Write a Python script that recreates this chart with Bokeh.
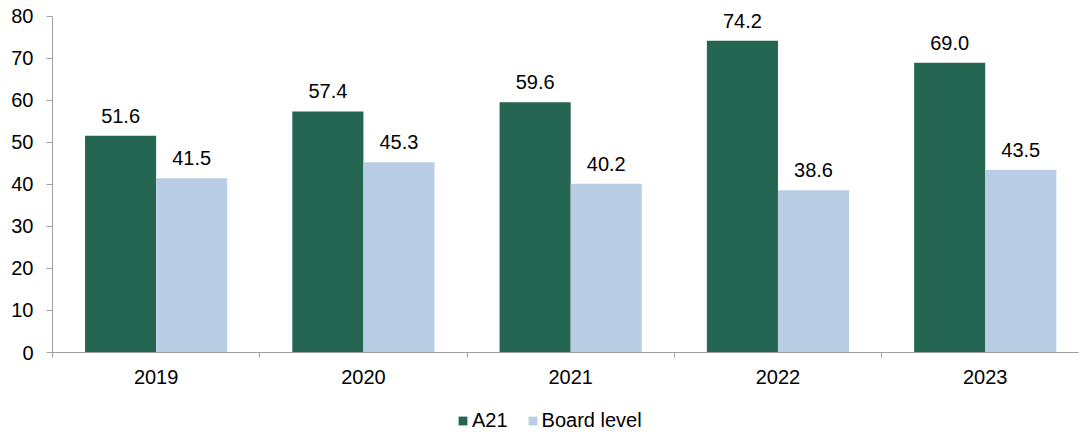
from bokeh.plotting import figure
from bokeh.layouts import column
from bokeh.models import (ColumnDataSource, Range1d, FixedTicker, LabelSet, Legend, LegendItem)
from bokeh.core.properties import value
from bokeh.transform import dodge
from bokeh.embed import file_html
from bokeh.resources import INLINE

years = ["2019", "2020", "2021", "2022", "2023"]
a21 = [51.6, 57.4, 59.6, 74.2, 69.0]
board = [41.5, 45.3, 40.2, 38.6, 43.5]
y_ticks = [0, 10, 20, 30, 40, 50, 60, 70, 80]
series_names = ["A21", "Board level"]

GREEN = "#256652"
BLUE = "#B9CDE5"
AXIS = "#A0A0A0"
FONT = "Liberation Sans"
FS = "20px"

pos = [i + 0.5 for i in range(len(years))]
src = ColumnDataSource(dict(
    x=pos, a21=a21, board=board,
    a21_lbl=[f"{v:.1f}" for v in a21],
    board_lbl=[f"{v:.1f}" for v in board],
))

p = figure(width=1080, height=400, output_backend="svg", toolbar_location=None,
           x_range=Range1d(0, 4.95), y_range=Range1d(0, 83.8),
           min_border_left=52, min_border_right=2, min_border_top=0, min_border_bottom=48)
p.outline_line_color = None
p.grid.visible = False

bw = 0.343
p.vbar(x=dodge("x", -bw / 2, range=p.x_range), top="a21", width=bw, source=src,
       fill_color=GREEN, line_color=None)
p.vbar(x=dodge("x", bw / 2, range=p.x_range), top="board", width=bw, source=src,
       fill_color=BLUE, line_color=None)

for col, lbl, off in (("a21", "a21_lbl", -bw / 2), ("board", "board_lbl", bw / 2)):
    ls = LabelSet(x=dodge("x", off, range=p.x_range), y=col, text=lbl, source=src,
                  text_align="center", text_baseline="alphabetic", y_offset=13,
                  text_font=value(FONT), text_font_size=value(FS), text_color="#000000")
    p.add_layout(ls)

# x axis: labels at centers, ticks at category boundaries (minor ticks)
xa = p.xaxis[0]
xa.ticker = FixedTicker(ticks=pos, minor_ticks=list(range(len(years) + 1)))
xa.major_label_overrides = {v: y for v, y in zip(pos, years)}
xa.major_tick_line_color = None
xa.major_tick_out = 0
xa.major_tick_in = 0
xa.minor_tick_out = 5
xa.minor_tick_in = 0
xa.minor_tick_line_color = AXIS
xa.axis_line_color = AXIS
xa.major_label_standoff = 12
xa.major_label_text_font = FONT
xa.major_label_text_font_size = FS
xa.major_label_text_color = "#000000"

ya = p.yaxis[0]
ya.ticker = FixedTicker(ticks=y_ticks, minor_ticks=[])
ya.bounds = (y_ticks[0], y_ticks[-1])
ya.axis_line_color = AXIS
ya.major_tick_line_color = AXIS
ya.major_tick_out = 6
ya.major_tick_in = 0
ya.minor_tick_line_color = None
ya.major_label_standoff = 13
ya.major_label_text_font = FONT
ya.major_label_text_font_size = FS
ya.major_label_text_color = "#000000"

# legend strip: key renderers have zero width and lie outside the visible range
lg = figure(width=1080, height=32, output_backend="svg", toolbar_location=None,
            x_range=Range1d(0, 5), y_range=Range1d(-1000, -999),
            x_axis_location=None, y_axis_location=None,
            min_border_left=0, min_border_right=0, min_border_top=0, min_border_bottom=0)
lg.grid.visible = False
lg.outline_line_color = None
k1 = lg.vbar(x="x", top="a21", width=0, source=src, fill_color=GREEN, line_color=None)
k2 = lg.vbar(x="x", top="board", width=0, source=src, fill_color=BLUE, line_color=None)
legend = Legend(items=[LegendItem(label=series_names[0], renderers=[k1]),
                       LegendItem(label=series_names[1], renderers=[k2])],
                orientation="horizontal", location=(405, 0),
                glyph_width=11, glyph_height=11, label_standoff=4, spacing=19,
                label_text_font=FONT, label_text_font_size=FS, label_text_color="#000000",
                border_line_color=None, background_fill_alpha=0, padding=2, margin=0)
lg.add_layout(legend, "center")

layout = column(p, lg, spacing=0)
open("out.html", "w").write(file_html(layout, INLINE))
